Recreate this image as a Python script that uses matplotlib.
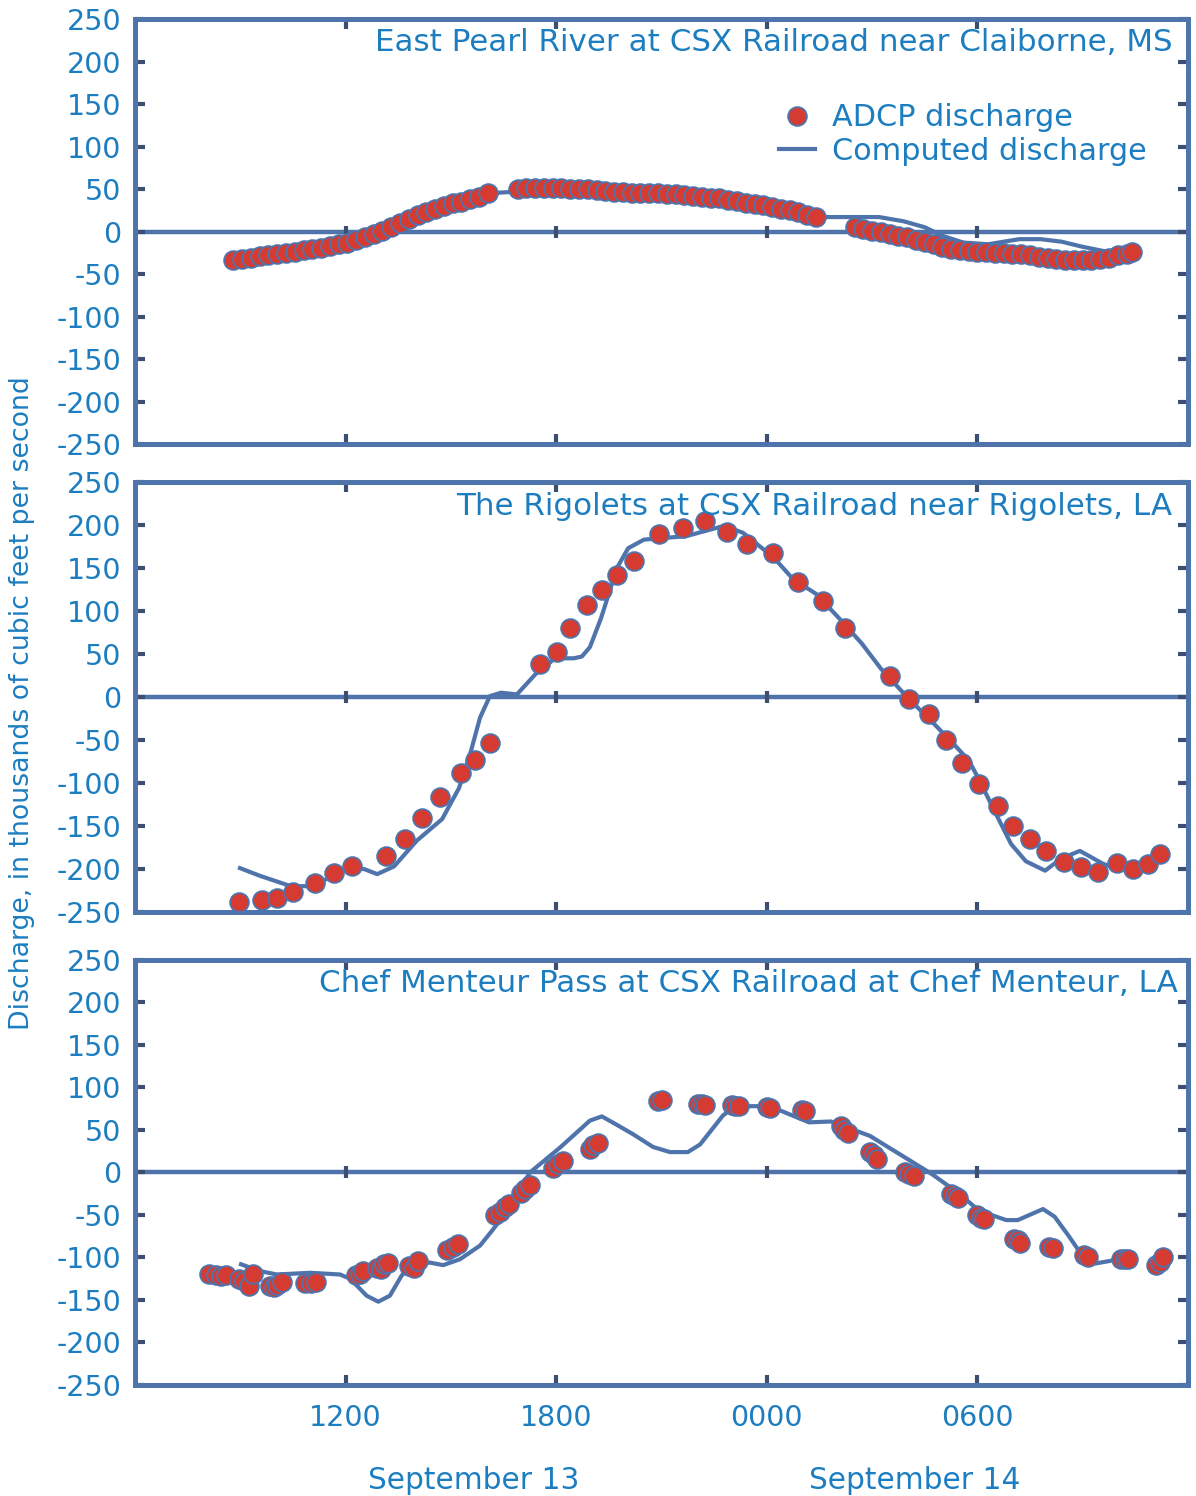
import matplotlib
matplotlib.use("Agg")
import matplotlib.pyplot as plt

plt.rcParams['font.family'] = ['DejaVu Sans']
plt.rcParams['axes.unicode_minus'] = False

# hours since 0000 September 13
# East Pearl River - ADCP
pearl_t = [8.8, 9.05, 9.3, 9.55, 9.8, 10.05, 10.3, 10.55, 10.8, 11.05, 11.3, 11.55, 11.8, 12.05, 12.3,
           12.55, 12.8, 13.05, 13.3, 13.55, 13.8, 14.05, 14.3, 14.55, 14.8, 15.05, 15.3, 15.55, 15.8, 16.05,
           16.9, 17.15, 17.4, 17.65, 17.9, 18.15, 18.4, 18.65, 18.9, 19.15, 19.4, 19.65, 19.9, 20.15, 20.4,
           20.65, 20.9, 21.15, 21.4, 21.65, 21.9, 22.15, 22.4, 22.65, 22.9, 23.15, 23.4, 23.65, 23.9, 24.15,
           24.4, 24.65, 24.9, 25.15, 25.4,
           26.5, 26.75, 27.0, 27.25, 27.5, 27.75, 28.0, 28.25, 28.5, 28.75, 29.0, 29.25, 29.5, 29.75, 30.0,
           30.25, 30.5, 30.75, 31.0, 31.25, 31.5, 31.75, 32.0, 32.25, 32.5, 32.75, 33.0, 33.25, 33.5, 33.75,
           34.0, 34.25, 34.4]
pearl_q = [-34, -32, -31, -29, -28, -27, -25, -24, -22, -20, -19, -17, -15, -13, -10,
           -6, -3, 1, 5, 10, 15, 19, 23, 27, 30, 33, 35, 38, 41, 45,
           50, 51, 51, 51, 51, 51, 50, 50, 50, 49, 48, 47, 46, 45, 45,
           45, 45, 44, 44, 43, 42, 41, 40, 39, 37, 36, 34, 32, 31, 29,
           27, 25, 23, 20, 17,
           5, 3, 1, -1, -3, -5, -7, -10, -12, -15, -18, -20, -22, -23, -24,
           -24, -25, -25, -26, -27, -28, -30, -31, -32, -33, -33, -33, -33, -32, -31,
           -28, -26, -24]
# East Pearl River - computed
pearl_line_t = [8.8, 10.0, 11.0, 12.0, 12.9, 13.6, 14.6, 15.3, 16.1, 16.9, 18.0, 19.0, 20.0, 21.0,
                22.0, 23.0, 24.0, 24.8, 25.5, 26.5, 27.2, 27.9, 28.5, 29.0, 29.6, 30.3, 31.2, 31.8,
                32.4, 33.0, 33.6, 34.4]
pearl_line_q = [-35, -27, -22, -14, -3, 10, 26, 34, 45, 47, 48, 47, 44, 43,
                41, 36, 30, 23, 17, 17, 17, 12, 5, -5, -13, -15, -9, -9,
                -12, -18, -23, -25]

# The Rigolets - ADCP
rig_t = [8.96, 9.62, 10.05, 10.5, 11.13, 11.67, 12.18, 13.15, 13.69, 14.18, 14.69, 15.29, 15.69, 16.11,
         17.54, 18.02, 18.39, 18.88, 19.3, 19.73, 20.22, 20.93, 21.61, 22.24, 22.87, 23.44, 24.18, 24.89,
         25.6, 26.23, 27.51, 28.05, 28.62, 29.1, 29.56, 30.05, 30.59, 31.01, 31.5, 31.95, 32.47, 32.95,
         33.44, 33.98, 34.43, 34.86, 35.2]
rig_q = [-238, -236, -234, -227, -216, -205, -197, -185, -165, -141, -116, -88, -73, -53,
         38, 52, 80, 107, 124, 142, 158, 190, 197, 205, 192, 178, 167, 134,
         112, 80, 24, -2, -20, -50, -77, -101, -127, -150, -165, -179, -192, -198,
         -203, -193, -200, -194, -183]
# The Rigolets - computed
rig_line_t = [8.99, 9.56, 10.44, 11.1, 11.95, 12.52, 12.9, 13.38, 14.03, 14.75, 15.23, 15.57, 15.83,
              16.11, 16.43, 16.88, 17.42, 17.97, 18.5, 18.73, 18.96, 19.28, 19.73, 20.05, 20.5, 21.7,
              22.78, 23.32, 24.2, 24.75, 25.4, 26.05, 26.71, 27.25, 28.02, 28.76, 29.33, 29.76, 30.07,
              30.53, 30.96, 31.38, 31.93, 32.38, 32.92, 33.58, 33.8]
rig_line_q = [-199, -208, -220, -220, -200, -200, -206, -197, -167, -142, -106, -63, -24,
              1, 5, 3, 27, 45, 45, 47, 58, 92, 150, 173, 183, 187,
              199, 191, 162, 137, 120, 92, 62, 33, -1, -31, -55, -74, -98,
              -136, -171, -191, -202, -188, -179, -194, -197]

# Chef Menteur Pass - ADCP
chef_t = [8.1, 8.3, 8.45, 8.6, 8.95, 9.1, 9.25, 9.35, 9.85, 9.95, 10.05, 10.2, 10.85, 11.0, 11.15,
          12.3, 12.4, 12.5, 12.9, 13.0, 13.1, 13.2, 13.8, 13.95, 14.05, 14.9, 15.05, 15.2,
          16.25, 16.4, 16.55, 16.65, 17.0, 17.1, 17.25, 17.9, 18.05, 18.2, 18.95, 19.05, 19.2,
          20.9, 21.0, 22.05, 22.15, 22.25, 23.0, 23.1, 23.2, 24.0, 24.1, 25.0, 25.1,
          26.1, 26.2, 26.3, 26.95, 27.05, 27.15, 27.95, 28.05, 28.2, 29.25, 29.35, 29.45,
          30.0, 30.1, 30.2, 31.05, 31.15, 31.2, 32.05, 32.15, 33.05, 33.15,
          34.1, 34.2, 34.3, 35.1, 35.2, 35.3]
chef_q = [-120, -121, -122, -121, -125, -128, -133, -120, -133, -135, -132, -129, -130, -130, -129,
          -121, -119, -116, -112, -114, -108, -106, -110, -112, -104, -91, -88, -84,
          -50, -46, -41, -37, -24, -20, -15, 5, 10, 14, 28, 32, 35,
          84, 85, 81, 81, 79, 79, 78, 78, 77, 76, 73, 72,
          55, 50, 46, 24, 20, 16, 0, -2, -4, -25, -28, -30,
          -50, -53, -55, -78, -80, -83, -88, -89, -97, -99,
          -102, -102, -102, -109, -105, -99]
# Chef Menteur Pass - computed
chef_line_t = [9.02, 9.56, 10.04, 10.99, 11.84, 12.13, 12.6, 12.93, 13.26, 13.6, 13.93, 14.4, 14.78,
               15.26, 15.83, 16.2, 16.6, 17.25, 18.1, 18.96, 19.3, 19.73, 20.19, 20.76, 21.24, 21.75,
               22.1, 22.75, 23.1, 23.8, 24.38, 25.2, 25.83, 26.94, 28.16, 28.71, 29.48, 30.05, 30.82,
               31.15, 31.87, 32.2, 32.59, 33.04, 33.37, 33.92, 34.2]
chef_line_q = [-108, -116, -120, -118, -120, -125, -145, -152, -145, -121, -108, -106, -109,
               -102, -86, -67, -45, 0, 29, 61, 66, 56, 45, 30, 24, 24,
               33, 67, 78, 78, 73, 59, 60, 43, 12, -2, -25, -45, -56,
               -56, -43, -52, -74, -101, -107, -103, -102]

titles = ["East Pearl River at CSX Railroad near Claiborne, MS",
          "The Rigolets at CSX Railroad near Rigolets, LA",
          "Chef Menteur Pass at CSX Railroad at Chef Menteur, LA"]
xticks = [12, 18, 24, 30]
xtick_labels = ["1200", "1800", "0000", "0600"]
yticks = [-250, -200, -150, -100, -50, 0, 50, 100, 150, 200, 250]

frame_c = "#4F74AB"
tick_c = "#3D4F70"
text_c = "#1C7DC0"
dot_c = "#D63B32"
fs = 20.5

fig = plt.figure(figsize=(11.96, 14.96), dpi=100)
positions = [[0.1129, 0.7032, 0.8804, 0.2841],
             [0.1129, 0.3904, 0.8804, 0.2874],
             [0.1129, 0.0742, 0.8804, 0.2841]]
series = [(pearl_t, pearl_q, pearl_line_t, pearl_line_q),
          (rig_t, rig_q, rig_line_t, rig_line_q),
          (chef_t, chef_q, chef_line_t, chef_line_q)]
title_x = [0.985, 0.985, 0.9905]

axes = []
for i, pos in enumerate(positions):
    ax = fig.add_axes(pos)
    t, q, lt, lq = series[i]
    ax.axhline(0, color=frame_c, lw=3.2, zorder=1)
    # small tick marks sitting on the zero line
    ax.plot(xticks, [0] * len(xticks), linestyle='none', marker='|', ms=9, mew=3,
            color=tick_c, zorder=1)
    ax.plot(lt, lq, color=frame_c, lw=3.0, zorder=2, label="Computed discharge",
            solid_joinstyle='round')
    ax.plot(t, q, 'o', ms=13.5, mfc=dot_c, mec=frame_c, mew=1.3, zorder=3,
            label="ADCP discharge")
    ax.set_xlim(6, 36)
    ax.set_ylim(-250, 250)
    ax.set_xticks(xticks)
    ax.set_yticks(yticks)
    for s in ax.spines.values():
        s.set_color(frame_c)
        s.set_linewidth(3.6)
    ax.tick_params(direction='in', length=7, width=3, color=tick_c,
                   top=True, right=True, labelcolor=text_c, labelsize=fs, pad=10)
    ax.tick_params(axis='x', pad=14)
    if i < 2:
        ax.set_xticklabels([])
    else:
        ax.set_xticklabels(xtick_labels)
    ax.text(title_x[i], 0.944, titles[i], transform=ax.transAxes, ha='right', va='center',
            color=text_c, fontsize=22.3)
    axes.append(ax)

# legend in the top panel
h, l = axes[0].get_legend_handles_labels()
axes[0].legend([h[1], h[0]], [l[1], l[0]], loc='upper left', bbox_to_anchor=(0.6, 0.83),
               frameon=False, fontsize=21.8, labelcolor=text_c, handlelength=1.2,
               handletextpad=0.55, borderaxespad=0, labelspacing=0.15)

axes[2].text(15.66, -362, "September 13", ha='center', va='center', color=text_c,
             fontsize=21.3, clip_on=False)
axes[2].text(28.2, -362, "September 14", ha='center', va='center', color=text_c,
             fontsize=21.3, clip_on=False)

fig.text(0.018, 0.530, "Discharge, in thousands of cubic feet per second", rotation=90,
         ha='center', va='center', color=text_c, fontsize=19.3)

fig.savefig("out.png", dpi=100)
